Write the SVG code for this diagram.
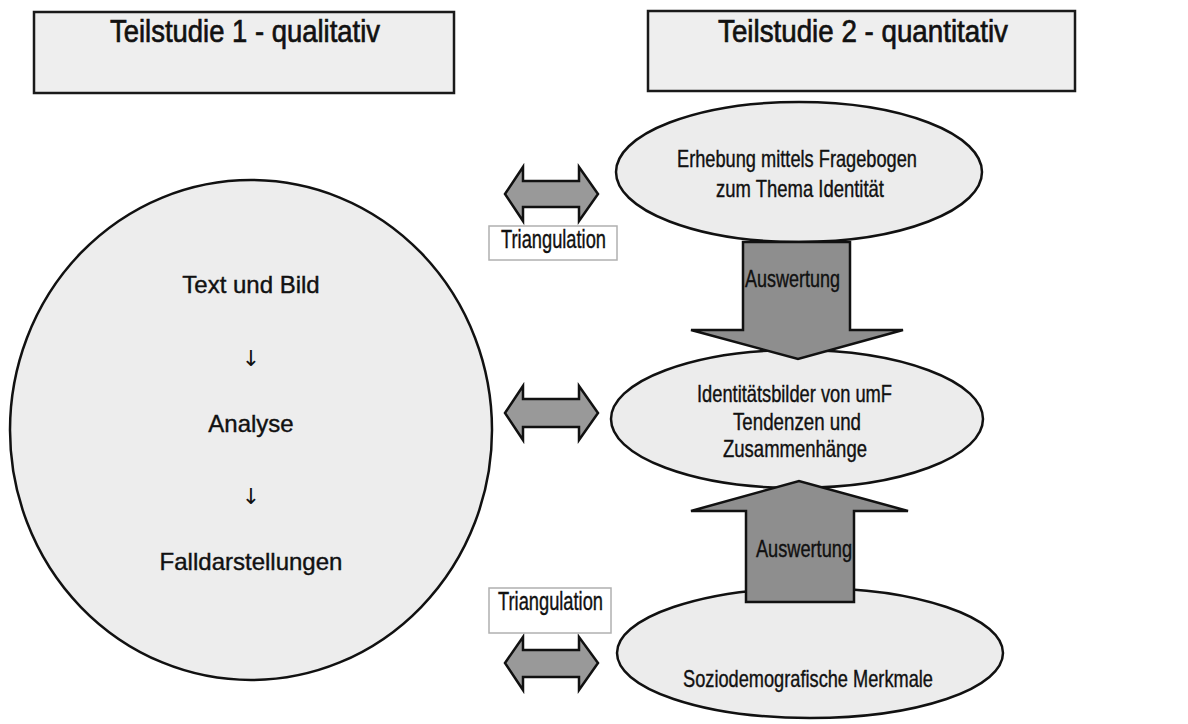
<svg xmlns="http://www.w3.org/2000/svg" width="1188" height="724" viewBox="0 0 1188 724">
<style>
.box{fill:#eeeeee;stroke:#1a1a1a;stroke-width:2.5}
.ell{fill:#ececec;stroke:#111;stroke-width:2.5}
.big{fill:#ededed;stroke:#111;stroke-width:2.5}
.arr{fill:#8e8e8e;stroke:#111;stroke-width:2.5;stroke-linejoin:miter}
.darr{fill:#999999;stroke:#111;stroke-width:2.5;stroke-linejoin:miter}
.tbox{fill:#ffffff;stroke:#b0b0b0;stroke-width:1.5}
text{font-family:"Liberation Sans",Arial,sans-serif;fill:#111;stroke:#111;stroke-width:0.4}
.title{font-size:32px;stroke-width:0.7}
.lt{font-size:24px}
.rt{font-size:24px}
.tri{font-size:26px}
.dn{font-family:"DejaVu Sans",sans-serif;font-size:22px;fill:#111;stroke:none}
</style>
<rect width="1188" height="724" fill="#ffffff"/>
<g id="title1">
<rect class="box" x="34" y="12" width="420" height="81"/>
<text class="title" x="110" y="42" textLength="270" lengthAdjust="spacingAndGlyphs">Teilstudie 1 - qualitativ</text>
</g>
<g id="title2">
<rect class="box" x="648" y="11" width="427" height="80"/>
<text class="title" x="718" y="42" textLength="290" lengthAdjust="spacingAndGlyphs">Teilstudie 2 - quantitativ</text>
</g>
<g id="circle">
<ellipse class="big" cx="251" cy="430" rx="241" ry="250"/>
<text class="lt" x="251" y="293" text-anchor="middle">Text und Bild</text>
<text class="dn" x="251" y="366" text-anchor="middle">↓</text>
<text class="lt" x="251" y="432" text-anchor="middle">Analyse</text>
<text class="dn" x="251" y="504" text-anchor="middle">↓</text>
<text class="lt" x="251" y="570" text-anchor="middle">Falldarstellungen</text>
</g>
<g id="erhebung">
<ellipse class="ell" cx="799" cy="172" rx="183" ry="70"/>
<text class="rt" x="677" y="167" textLength="240" lengthAdjust="spacingAndGlyphs">Erhebung mittels Fragebogen</text>
<text class="rt" x="716" y="197" textLength="168" lengthAdjust="spacingAndGlyphs">zum Thema Identität</text>
</g>
<g id="identitaet">
<ellipse class="ell" cx="797" cy="419" rx="186" ry="69"/>
<text class="rt" x="697" y="402" textLength="195" lengthAdjust="spacingAndGlyphs">Identitätsbilder von umF</text>
<text class="rt" x="733" y="430" textLength="128" lengthAdjust="spacingAndGlyphs">Tendenzen und</text>
<text class="rt" x="723" y="457" textLength="144" lengthAdjust="spacingAndGlyphs">Zusammenhänge</text>
</g>
<g id="sozio">
<ellipse class="ell" cx="810" cy="653" rx="193" ry="65"/>
<text class="rt" x="683" y="687" textLength="250" lengthAdjust="spacingAndGlyphs">Soziodemografische Merkmale</text>
</g>
<g id="connectors">
<g id="down-arrow">
<polygon class="arr" points="743,242 850,242 850,330 903,330 798,359 691,330 743,330"/>
<text class="rt" x="745" y="287" textLength="95" lengthAdjust="spacingAndGlyphs">Auswertung</text>
</g>
<g id="up-arrow">
<polygon class="arr" points="746,602 854,602 854,511 908,511 799,481 691,511 746,511"/>
<text class="rt" x="756" y="557" textLength="96" lengthAdjust="spacingAndGlyphs">Auswertung</text>
</g>
<polygon class="darr" points="505,194 523,167 523,181 579,181 579,167 598,194 579,221 579,207 523,207 523,221"/>
<polygon class="darr" points="505,413 523,386 523,399 579,399 579,386 598,413 579,440 579,427 523,427 523,440"/>
<polygon class="darr" points="505,663 523,637 523,650 579,650 579,637 598,663 579,690 579,677 523,677 523,690"/>
</g>
<g id="tri1">
<rect class="tbox" x="489" y="226" width="128" height="34"/>
<text class="tri" x="501" y="248" textLength="105" lengthAdjust="spacingAndGlyphs">Triangulation</text>
</g>
<g id="tri2">
<rect class="tbox" x="489" y="588" width="122" height="45"/>
<text class="tri" x="498" y="610" textLength="105" lengthAdjust="spacingAndGlyphs">Triangulation</text>
</g>
</svg>
